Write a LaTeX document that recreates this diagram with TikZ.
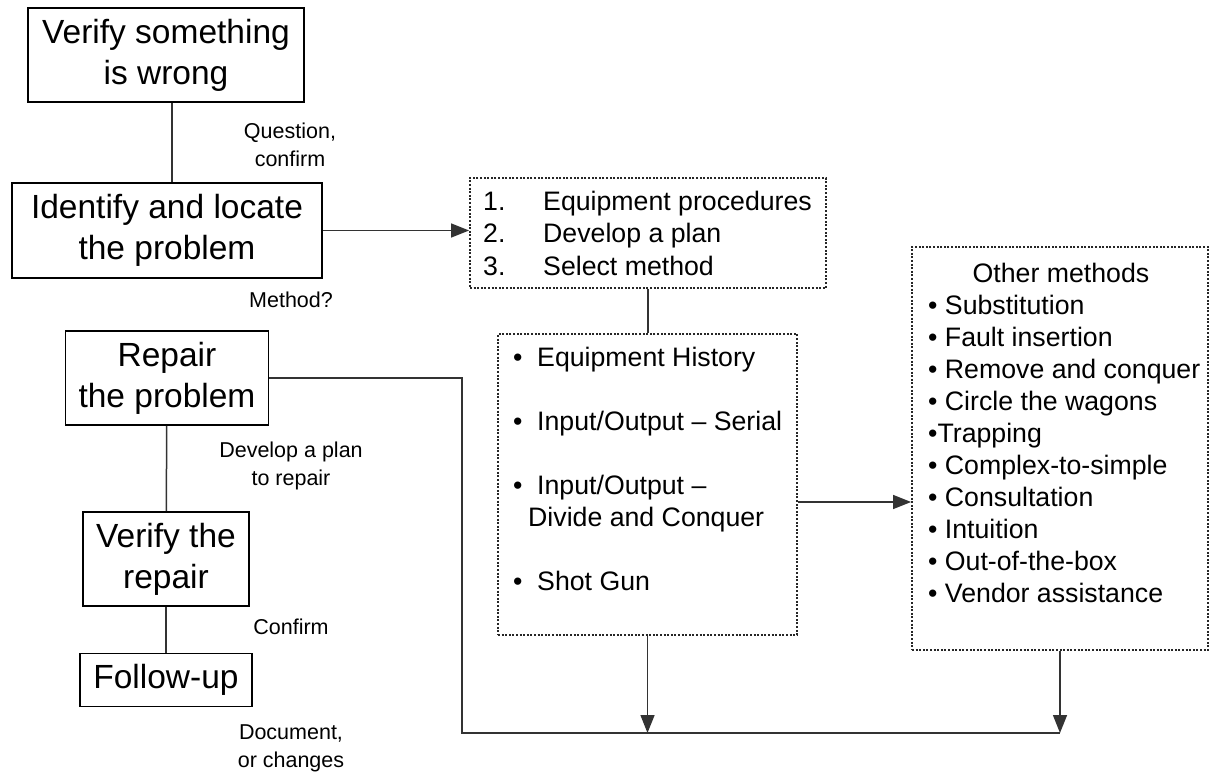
\documentclass[tikz,border=0pt]{standalone}
\usepackage{fontspec}
\setmainfont{Liberation Sans}
\usetikzlibrary{arrows.meta}

\begin{document}
\begin{tikzpicture}[x=1pt,y=-1pt]
			\tikzstyle{stage} = [draw, line width=1.8pt, align=center, inner sep=0pt, font=\fontsize{33.5}{41}\selectfont]
			\tikzstyle{note} = [align=center, font=\fontsize{21.5}{28}\selectfont]
			\tikzstyle{listbox} = [draw=black!85, dash pattern=on 2pt off 1.6pt, line width=1.8pt, inner sep=0pt]
			\tikzstyle{item} = [anchor=base west, inner sep=0pt, font=\fontsize{26.7}{32}\selectfont]
			\tikzset{edge/.style = {draw=black!80, line width=1.5pt},
			         arrow/.style = {edge, -{Triangle[length=18pt,width=14pt]}}}
			\useasboundingbox (0,0) rectangle (1211,773);
			
			\node[stage, minimum width=276, minimum height=94](verify) at (166,55) {Verify something\\is wrong};
			\node[stage, minimum width=310, minimum height=95](identify) at (167,230.5) {Identify and locate\\the problem};
			\node[stage, minimum width=203, minimum height=94](repair) at (167,378) {Repair\\the problem};
			\node[stage, minimum width=166, minimum height=94](check) at (166,559) {Verify the\\repair};
			\node[stage, minimum width=172, minimum height=53](followup) at (166,680) {Follow-up};
			\draw[edge]([xshift=6pt]verify.south) to ([xshift=6pt]verify.south |- identify.north);
			\draw[edge](repair) to (check);
			\draw[edge](check) to (followup);
			
			\node[note](question) at (290,145) {Question,\\confirm};
			\node[note](method) at (291,300) {Method?};
			\node[note](plan) at (291,466) {Develop a plan\\to repair};
			\node[note](confirm) at (291,627) {Confirm};
			\node[note](document) at (291,748) {Document,\\or changes};
			
			\node[listbox, minimum width=356, minimum height=110](steps) at (648,233) {};
			\node[item](num1) at (483,211) {1.};
			\node[item](step1) at (543,211) {Equipment procedures};
			\node[item](num2) at (483,243) {2.};
			\node[item](step2) at (543,243) {Develop a plan};
			\node[item](num3) at (483,275) {3.};
			\node[item](step3) at (543,275) {Select method};
			\draw[arrow](identify.east) to (identify.east -| steps.west);
			
			\node[listbox, minimum width=299, minimum height=301](methods) at (647.5,484.5) {};
			\node[item](dot1) at (513,366) {•};
			\node[item](history) at (537,366) {Equipment History};
			\node[item](dot2) at (513,430) {•};
			\node[item](serial) at (537,430) {Input/Output – Serial};
			\node[item](dot3) at (513,494) {•};
			\node[item](divide) at (537,494) {Input/Output –};
			\node[item](conquer) at (528,526) {Divide and Conquer};
			\node[item](dot4) at (513,590) {•};
			\node[item](shotgun) at (537,590) {Shot Gun};
			\draw[edge](steps.south) to (steps.south |- methods.north);
			
			\node[listbox, minimum width=296, minimum height=403](others) at (1060,448.5) {};
			\node[item, anchor=base](otherhead) at (1061,282) {Other methods};
			\node[item](other1) at (928,314) {• Substitution};
			\node[item](other2) at (928,346) {• Fault insertion};
			\node[item](other3) at (928,378) {• Remove and conquer};
			\node[item](other4) at (928,410) {• Circle the wagons};
			\node[item](other5) at (928,442) {•Trapping};
			\node[item](other6) at (928,474) {• Complex-to-simple};
			\node[item](other7) at (928,506) {• Consultation};
			\node[item](other8) at (928,538) {• Intuition};
			\node[item](other9) at (928,570) {• Out-of-the-box};
			\node[item](other10) at (928,602) {• Vendor assistance};
			\draw[arrow]([yshift=-17.5pt]methods.east) to ([yshift=-17.5pt]methods.east -| others.west);
			
			\coordinate(corner) at (462,733);
			\draw[edge](repair.east) to (repair.east -| corner) to (corner) to (corner -| others.south);
			\draw[arrow](methods.south) to (methods.south |- corner);
			\draw[arrow](others.south) to (others.south |- corner);
			
\end{tikzpicture}
\end{document}
